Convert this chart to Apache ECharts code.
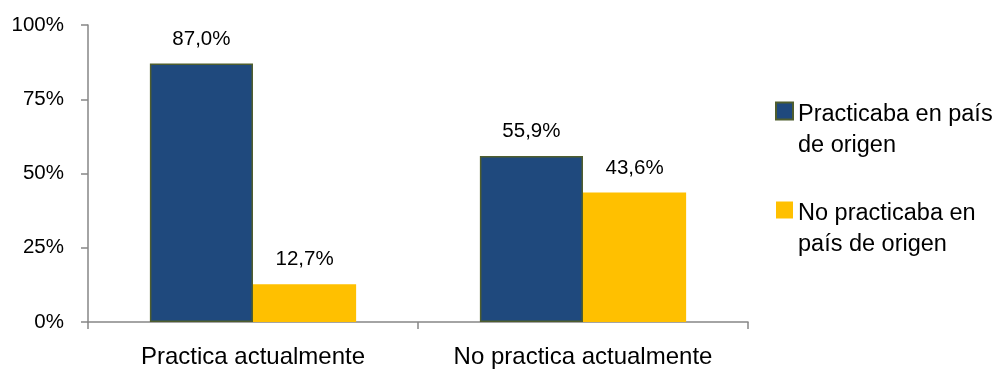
<!DOCTYPE html>
<html>
<head>
<meta charset="utf-8">
<script src="https://cdn.jsdelivr.net/npm/echarts@6/dist/echarts.min.js"></script>
<style>
  html, body { margin: 0; padding: 0; background: #fff; }
  #chart { width: 1000px; height: 373px; }
</style>
</head>
<body>
<div id="chart"></div>
<script>
// Practice now vs. practice in the country of origin
const categories = ['Practica actualmente', 'No practica actualmente'];
const seriesNames = ['Practicaba en país\nde origen', 'No practicaba en\npaís de origen'];
const practicaba = [87.0, 55.9];
const noPracticaba = [12.7, 43.6];
const yTicks = [0, 25, 50, 75, 100];

const FONT = '"Liberation Sans", Arial, sans-serif';
const AXIS_GREY = '#868686';

const fmtPct = v => v.toFixed(1).replace('.', ',') + '%';

const chart = echarts.init(document.getElementById('chart'), null, { renderer: 'canvas' });

chart.setOption({
  animation: false,
  textStyle: { fontFamily: FONT, color: '#000' },
  grid: { left: 88, right: 252, top: 25, bottom: 51, containLabel: false },
  legend: {
    orient: 'vertical',
    left: 775,
    top: 75,
    padding: 0,
    itemGap: 16,
    itemWidth: 17,
    itemHeight: 17,
    icon: 'rect',
    selectedMode: false,
    // a taller blank first line keeps the first text line level with the swatch
    formatter: name => '{gap| }\n' + name.split('\n').map(s => '{t|' + s + '}').join('\n'),
    textStyle: {
      fontFamily: FONT,
      fontSize: 23.5,
      color: '#000',
      rich: {
        gap: { fontSize: 10, lineHeight: 39 },
        t: { fontFamily: FONT, fontSize: 23.5, color: '#000', lineHeight: 31 }
      }
    },
    data: seriesNames
  },
  xAxis: {
    type: 'category',
    data: categories,
    axisLine: { lineStyle: { color: AXIS_GREY, width: 1.5 } },
    axisTick: { show: true, length: 7, alignWithLabel: false, lineStyle: { color: AXIS_GREY, width: 1.5 } },
    axisLabel: { fontFamily: FONT, fontSize: 24, color: '#000', margin: 23, interval: 0 }
  },
  yAxis: {
    type: 'value',
    min: 0,
    max: 100,
    interval: 25,
    splitLine: { show: false },
    axisLine: { show: true, lineStyle: { color: AXIS_GREY, width: 1.5 } },
    axisTick: { show: true, length: 7, lineStyle: { color: AXIS_GREY, width: 1.5 } },
    axisLabel: {
      fontFamily: FONT,
      fontSize: 20.5,
      color: '#000',
      margin: 24,
      formatter: v => (yTicks.includes(v) ? v + '%' : '')
    }
  },
  series: [
    {
      name: seriesNames[0],
      type: 'bar',
      data: practicaba,
      barGap: '0%',
      barCategoryGap: '37.5%',
      itemStyle: { color: '#1F497D', borderColor: '#4F5E2E', borderWidth: 1.5 },
      label: {
        show: true,
        position: 'top',
        distance: 14,
        fontFamily: FONT,
        fontSize: 20.5,
        color: '#000',
        formatter: p => fmtPct(p.value)
      }
    },
    {
      name: seriesNames[1],
      type: 'bar',
      data: noPracticaba,
      barGap: '0%',
      barCategoryGap: '37.5%',
      itemStyle: { color: '#FFC000' },
      label: {
        show: true,
        position: 'top',
        distance: 14,
        fontFamily: FONT,
        fontSize: 20.5,
        color: '#000',
        formatter: p => fmtPct(p.value)
      }
    }
  ]
});
</script>
</body>
</html>
